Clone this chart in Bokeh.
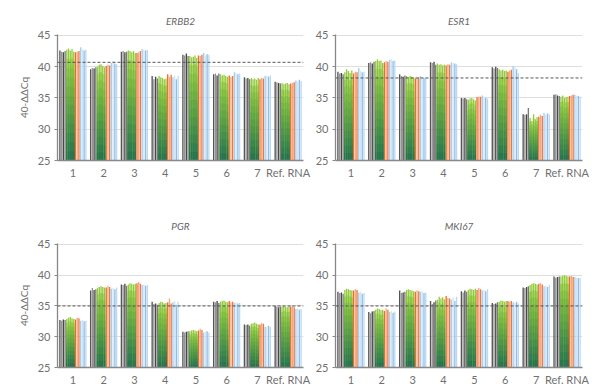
from bokeh.plotting import figure
from bokeh.models import Range1d, FixedTicker, Span
from bokeh.layouts import column, row
from bokeh.embed import file_html
from bokeh.resources import INLINE

GROUPS = ["1", "2", "3", "4", "5", "6", "7", "Ref. RNA"]
GENES = ["ERBB2", "ESR1", "PGR", "MKI67"]
Y_TICKS = [25, 30, 35, 40, 45]

# per group: 4 grey, 5 green, 3 orange, 4 blue replicate values
ERBB2 = [
    [42.6, 42.4, 42.3, 42.5, 42.7, 42.9, 42.6, 42.8, 42.4, 42.3, 42.4, 42.5, 43.1, 42.8, 42.6, 42.7],
    [39.6, 39.8, 39.7, 39.9, 40.0, 40.3, 40.4, 40.1, 39.9, 40.1, 40.3, 40.2, 40.6, 40.9, 40.5, 40.4],
    [42.4, 42.5, 42.3, 42.4, 42.6, 42.5, 42.3, 42.5, 42.2, 42.2, 42.3, 42.5, 42.8, 42.7, 42.6, 42.7],
    [38.5, 38.0, 38.4, 38.1, 38.5, 38.3, 38.2, 38.0, 38.1, 38.8, 38.4, 38.7, 38.3, 38.6, 38.0, 38.5],
    [41.9, 41.8, 42.1, 41.7, 41.7, 41.5, 41.6, 41.8, 41.4, 41.8, 41.7, 41.9, 42.2, 41.8, 42.0, 41.9],
    [38.8, 38.9, 38.6, 38.9, 38.8, 38.6, 38.7, 38.5, 38.4, 38.6, 38.4, 38.5, 39.1, 39.0, 38.8, 38.9],
    [38.3, 38.1, 38.2, 38.0, 38.2, 38.0, 38.1, 37.9, 38.2, 38.0, 38.2, 38.1, 38.5, 38.6, 38.4, 38.6],
    [37.6, 37.5, 37.4, 37.3, 37.4, 37.2, 37.3, 37.4, 37.2, 37.3, 37.4, 37.5, 37.8, 37.6, 37.9, 37.7],
]
ESR1 = [
    [39.2, 38.9, 39.0, 38.8, 39.1, 39.6, 39.3, 39.0, 39.4, 38.9, 39.2, 39.1, 39.8, 39.3, 39.1, 39.2],
    [40.6, 40.7, 40.5, 40.8, 40.9, 41.2, 40.9, 41.0, 40.6, 40.7, 40.9, 40.8, 41.1, 41.2, 40.9, 41.0],
    [38.8, 38.5, 38.4, 38.6, 38.5, 38.3, 38.5, 38.4, 38.3, 38.1, 38.2, 38.3, 38.5, 38.3, 38.2, 38.3],
    [40.7, 40.6, 40.8, 40.3, 40.5, 40.3, 40.4, 40.2, 40.3, 40.2, 40.4, 40.3, 40.7, 40.6, 40.5, 40.4],
    [35.0, 34.9, 35.0, 34.8, 34.7, 34.9, 35.0, 34.8, 34.6, 35.1, 35.2, 35.2, 35.4, 35.2, 35.0, 34.9],
    [39.9, 39.7, 40.0, 39.8, 39.6, 39.4, 39.5, 39.3, 39.4, 39.2, 39.4, 39.5, 40.1, 39.9, 39.6, 39.0],
    [32.4, 32.3, 32.4, 33.4, 31.8, 31.3, 32.4, 31.6, 31.9, 32.0, 32.3, 32.1, 32.6, 32.3, 32.5, 32.4],
    [35.5, 35.6, 35.4, 35.3, 35.2, 35.4, 35.0, 35.1, 35.2, 35.3, 35.4, 35.5, 35.5, 35.4, 35.3, 35.2],
]
PGR = [
    [32.7, 32.6, 32.8, 32.7, 32.9, 33.1, 33.2, 33.0, 32.9, 32.8, 33.1, 33.0, 32.6, 32.7, 32.5, 32.6],
    [37.5, 37.9, 37.6, 37.7, 37.9, 38.1, 38.2, 38.1, 38.0, 38.0, 38.3, 38.1, 37.8, 37.9, 37.7, 38.0],
    [38.5, 38.4, 38.6, 38.3, 38.5, 38.7, 38.6, 38.5, 38.6, 38.7, 38.9, 38.6, 38.4, 38.5, 38.3, 38.4],
    [35.7, 35.3, 35.4, 35.2, 35.5, 35.7, 35.6, 35.4, 35.5, 35.6, 36.2, 35.4, 35.6, 35.8, 35.2, 35.7],
    [30.8, 30.7, 30.8, 30.9, 30.9, 31.0, 31.1, 31.0, 30.9, 31.0, 31.3, 31.1, 30.7, 30.8, 30.9, 30.7],
    [35.7, 35.6, 35.8, 35.5, 35.7, 35.8, 35.9, 35.7, 35.6, 35.8, 35.6, 35.7, 35.5, 35.6, 35.4, 35.5],
    [32.0, 31.9, 32.0, 31.8, 32.1, 32.2, 32.3, 32.1, 32.0, 32.0, 32.2, 32.1, 31.6, 31.7, 31.8, 31.6],
    [35.0, 34.9, 34.8, 34.9, 34.9, 35.0, 34.9, 34.8, 34.9, 34.9, 35.0, 34.8, 34.5, 34.6, 34.4, 34.5],
]
MKI67 = [
    [37.3, 37.1, 37.2, 37.0, 37.6, 37.8, 37.7, 37.6, 37.5, 37.5, 37.7, 37.6, 37.2, 37.3, 37.0, 37.1],
    [34.0, 33.8, 34.1, 34.2, 34.4, 34.6, 34.5, 34.3, 34.4, 34.2, 34.6, 34.4, 34.0, 34.2, 33.9, 34.1],
    [37.5, 37.1, 37.2, 37.3, 37.6, 37.7, 37.6, 37.5, 37.4, 37.3, 37.5, 37.4, 37.3, 37.4, 37.1, 37.2],
    [35.8, 35.3, 35.6, 35.9, 36.0, 36.5, 36.2, 36.4, 36.1, 36.6, 36.3, 36.2, 36.0, 36.4, 35.8, 36.5],
    [37.4, 37.2, 37.5, 37.3, 37.6, 37.8, 37.7, 37.6, 37.8, 37.6, 37.9, 37.7, 37.5, 37.6, 37.4, 37.7],
    [35.5, 35.3, 35.4, 35.6, 35.7, 35.9, 35.8, 35.7, 35.8, 35.8, 35.7, 35.8, 35.6, 35.5, 35.7, 35.4],
    [38.0, 37.9, 38.1, 38.2, 38.4, 38.6, 38.7, 38.6, 38.5, 38.6, 38.7, 38.5, 38.2, 38.3, 38.1, 38.4],
    [39.8, 39.6, 39.7, 39.8, 39.8, 39.9, 40.0, 39.9, 39.8, 39.8, 39.9, 39.7, 39.7, 39.6, 39.5, 39.6],
]
THRESHOLDS = [40.7, 38.2, 35.0, 35.0]
DATA = [ERBB2, ESR1, PGR, MKI67]

GRAY = ["#555555", "#959595", "#484848", "#7a7a7a"]
ORANGE = ["#f26a28", "#f8a67c", "#ef773a"]
BLUE = ["#a6ccee", "#d2e5f6", "#8fbee8", "#bdd9f2"]
GREEN_LO = (0x1c, 0x6c, 0x55)
GREEN_HI = (0x92, 0xcc, 0x3c)
N_GRAY, N_GREEN, N_ORANGE, N_BLUE = 4, 5, 3, 4
N_SEG = 12
BASE = 25

FONT = "Lato"
TXT = "#707070"


def mix(t):
    c = [round(GREEN_LO[i] + (GREEN_HI[i] - GREEN_LO[i]) * t) for i in range(3)]
    return "#%02x%02x%02x" % tuple(c)


def panel(name, data, thr, ylabel, width, height, mbl, mbr, mbt, mbb, standoff):
    p = figure(width=width, height=height, output_backend="svg", toolbar_location=None,
               x_range=Range1d(0, len(GROUPS)), y_range=Range1d(BASE, 45.15),
               min_border_left=mbl, min_border_right=mbr, min_border_top=mbt,
               min_border_bottom=mbb, title=name)
    p.outline_line_color = None
    p.background_fill_color = "white"
    p.border_fill_color = "white"
    p.title.align = "center"
    p.title.text_font = FONT
    p.title.text_font_style = "italic"
    p.title.text_font_size = "10px"
    p.title.text_color = "#666666"
    p.title.standoff = standoff

    nb = N_GRAY + N_GREEN + N_ORANGE + N_BLUE
    slot = 0.9 / nb
    bw = slot * 0.78
    flat = dict(left=[], right=[], top=[], bottom=[], color=[])
    grad = dict(left=[], right=[], top=[], bottom=[], color=[])
    for gi, vals in enumerate(data):
        for j, v in enumerate(vals):
            cx = gi + 0.05 + (j + 0.5) * slot
            l, r = cx - bw / 2, cx + bw / 2
            if N_GRAY <= j < N_GRAY + N_GREEN:
                for k in range(N_SEG, 0, -1):
                    t = k / N_SEG
                    grad["left"].append(l)
                    grad["right"].append(r)
                    grad["bottom"].append(BASE)
                    grad["top"].append(BASE + (v - BASE) * t)
                    grad["color"].append(mix(t))
            else:
                if j < N_GRAY:
                    c = GRAY[j]
                elif j < N_GRAY + N_GREEN + N_ORANGE:
                    c = ORANGE[j - N_GRAY - N_GREEN]
                else:
                    c = BLUE[j - N_GRAY - N_GREEN - N_ORANGE]
                flat["left"].append(l)
                flat["right"].append(r)
                flat["bottom"].append(BASE)
                flat["top"].append(v)
                flat["color"].append(c)
    p.quad(left="left", right="right", top="top", bottom="bottom", fill_color="color",
           line_color=None, source=flat)
    p.quad(left="left", right="right", top="top", bottom="bottom", fill_color="color",
           line_color=None, source=grad)

    p.add_layout(Span(location=thr, dimension="width", line_color="#555555",
                      line_width=1, line_dash="3 2"))

    p.xgrid.visible = False
    p.ygrid.ticker = FixedTicker(ticks=Y_TICKS)
    p.ygrid.grid_line_color = "#dedede"
    p.ygrid.grid_line_width = 1

    p.yaxis.ticker = FixedTicker(ticks=Y_TICKS)
    p.yaxis.minor_tick_line_color = None
    p.yaxis.major_tick_out = 3
    p.yaxis.major_tick_in = 0
    p.yaxis.major_tick_line_color = "#888888"
    p.yaxis.axis_line_color = "#888888"
    p.yaxis.axis_line_width = 1.3
    p.yaxis.major_label_text_font = FONT
    p.yaxis.major_label_text_font_size = "11px"
    p.yaxis.major_label_text_color = TXT
    p.yaxis.major_label_standoff = 4
    if ylabel:
        p.yaxis.axis_label = ylabel
        p.yaxis.axis_label_text_font = FONT
        p.yaxis.axis_label_text_font_style = "normal"
        p.yaxis.axis_label_text_font_size = "10px"
        p.yaxis.axis_label_text_color = TXT
        p.yaxis.axis_label_standoff = 5

    p.xaxis.ticker = FixedTicker(ticks=[i + 0.5 for i in range(len(GROUPS))])
    p.xaxis.major_label_overrides = {i + 0.5: g for i, g in enumerate(GROUPS)}
    p.xaxis.minor_tick_line_color = None
    p.xaxis.major_tick_line_color = None
    p.xaxis.major_tick_out = 0
    p.xaxis.major_tick_in = 0
    p.xaxis.axis_line_color = "#888888"
    p.xaxis.axis_line_width = 1.3
    p.xaxis.major_label_text_font = FONT
    p.xaxis.major_label_text_font_size = "11px"
    p.xaxis.major_label_text_color = TXT
    p.xaxis.major_label_standoff = 5
    return p


p1 = panel(GENES[0], DATA[0], THRESHOLDS[0], "40-ΔΔCq", 312, 186, 57, 9, 34, 26, 15)
p2 = panel(GENES[1], DATA[1], THRESHOLDS[1], None, 288, 186, 21, 18, 34, 26, 15)
p3 = panel(GENES[2], DATA[2], THRESHOLDS[2], "40-ΔΔCq", 312, 202, 57, 9, 57, 21, 24)
p4 = panel(GENES[3], DATA[3], THRESHOLDS[3], None, 288, 202, 21, 18, 57, 21, 24)

layout = column(row(p1, p2), row(p3, p4))
open("out.html", "w").write(file_html(layout, INLINE))
